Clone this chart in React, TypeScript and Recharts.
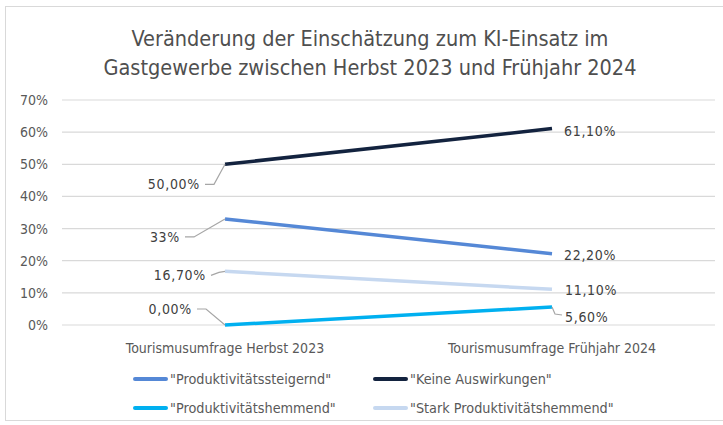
import React from 'react';
import { LineChart, Line, XAxis, YAxis, CartesianGrid, LabelList } from 'recharts';

// Kategorien und Werte (in %)
const categories = ['Tourismusumfrage Herbst 2023', 'Tourismusumfrage Frühjahr 2024'];
const steigernd = [33, 22.2];
const keineAuswirkungen = [50, 61.1];
const hemmend = [0, 5.6];
const starkHemmend = [16.7, 11.1];

const steigerndLabels = ['33%', '22,20%'];
const keineLabels = ['50,00%', '61,10%'];
const hemmendLabels = ['0,00%', '5,60%'];
const starkLabels = ['16,70%', '11,10%'];

const yTicks = [0, 10, 20, 30, 40, 50, 60, 70];

const data = categories.map((name, i) => ({
  name,
  steigernd: steigernd[i],
  keine: keineAuswirkungen[i],
  hemmend: hemmend[i],
  stark: starkHemmend[i],
}));

const FONT = '"DejaVu Sans Condensed", sans-serif';
const TEXT = '#404040';
const MUTED = '#595959';

/**
 * Datenbeschriftung mit Führungslinie
 * dx/dy: Textposition relativ zum Punkt, leader: Knickpunkte der Linie
 */
interface LabelSpec {
  dx: number;
  dy: number;
  anchor: 'start' | 'end';
  leader?: number[][];
}

const labelSpecs: Record<string, LabelSpec[]> = {
  keine: [
    { dx: -25, dy: 20, anchor: 'end', leader: [[-20, 20], [-11, 20], [0, 0]] },
    { dx: 12, dy: 2, anchor: 'start' },
  ],
  steigernd: [
    { dx: -45, dy: 18, anchor: 'end', leader: [[-40, 18], [-31, 18], [0, 0]] },
    { dx: 12, dy: 1, anchor: 'start' },
  ],
  stark: [
    { dx: -19, dy: 4, anchor: 'end', leader: [[-14, 4], [-6, 1], [0, 0]] },
    { dx: 13, dy: 1, anchor: 'start' },
  ],
  hemmend: [
    { dx: -33, dy: -16, anchor: 'end', leader: [[-28, -16], [-19, -16], [0, 0]] },
    { dx: 13, dy: 10, anchor: 'start', leader: [[0, 0], [3, 7], [10, 8]] },
  ],
};

const makeLabel = (key: string, texts: string[]) => (props: any) => {
  const { x, y, index } = props;
  const spec = labelSpecs[key][index];
  return (
    <g>
      {spec.leader && (
        <polyline
          points={spec.leader.map(([a, b]) => `${x + a},${y + b}`).join(' ')}
          fill="none"
          stroke="#a6a6a6"
          strokeWidth={1.2}
        />
      )}
      <text
        x={x + spec.dx}
        y={y + spec.dy}
        textAnchor={spec.anchor}
        dominantBaseline="central"
        fill={TEXT}
        fontSize={14}
        fontFamily={FONT}
        letterSpacing={0.7}
      >
        {texts[index]}
      </text>
    </g>
  );
};

const series = [
  { key: 'steigernd', name: '"Produktivitätssteigernd"', color: '#5588d6', labels: steigerndLabels },
  { key: 'keine', name: '"Keine Auswirkungen"', color: '#13233f', labels: keineLabels },
  { key: 'hemmend', name: '"Produktivitätshemmend"', color: '#00b0f0', labels: hemmendLabels },
  { key: 'stark', name: '"Stark Produktivitätshemmend"', color: '#c6d8f0', labels: starkLabels },
];

const legendPos = [
  { left: 133, top: 379 },
  { left: 373, top: 379 },
  { left: 133, top: 408 },
  { left: 373, top: 408 },
];

export default function App() {
  return (
    <div
      style={{
        position: 'absolute',
        left: 0,
        top: 0,
        width: 723,
        height: 425,
        overflow: 'hidden',
        background: '#fff',
        fontFamily: FONT,
      }}
    >
      <div
        style={{
          position: 'absolute',
          left: 5,
          top: 6,
          width: 730,
          height: 413,
          border: '1px solid #d9d9d9',
        }}
      />
      <div
        style={{
          position: 'absolute',
          left: 0,
          top: 24,
          width: 740,
          textAlign: 'center',
          fontSize: 21.5,
          lineHeight: '29px',
          color: '#4f4f4f',
        }}
      >
        Veränderung der Einschätzung zum KI-Einsatz im
        <br />
        Gastgewerbe zwischen Herbst 2023 und Frühjahr 2024
      </div>
      <div style={{ position: 'absolute', left: 0, top: 0 }}>
        <LineChart
          width={723}
          height={425}
          data={data}
          margin={{ top: 100, right: 8, bottom: 70, left: 12 }}
        >
          <CartesianGrid horizontal vertical={false} stroke="#d9d9d9" strokeWidth={1.2} />
          <XAxis
            dataKey="name"
            axisLine={false}
            tickLine={false}
            padding={{ left: 163, right: 163 }}
            height={30}
            tickMargin={12}
            tick={{ fill: MUTED, fontSize: 14, fontFamily: FONT }}
          />
          <YAxis
            domain={[0, 70]}
            ticks={yTicks}
            axisLine={false}
            tickLine={false}
            width={50}
            tickMargin={8}
            tickFormatter={(v) => `${v}%`}
            tick={{ fill: MUTED, fontSize: 14, fontFamily: FONT }}
          />
          {series.map((s) => (
            <Line
              key={s.key}
              dataKey={s.key}
              name={s.name}
              stroke={s.color}
              strokeWidth={3.5}
              dot={false}
              activeDot={false}
              isAnimationActive={false}
            >
              <LabelList dataKey={s.key} content={makeLabel(s.key, s.labels)} />
            </Line>
          ))}
        </LineChart>
      </div>
      {series.map((s, i) => (
        <div
          key={s.key}
          style={{
            position: 'absolute',
            left: legendPos[i].left,
            top: legendPos[i].top - 10,
            height: 20,
            display: 'flex',
            alignItems: 'center',
            fontSize: 14.3,
            color: MUTED,
            whiteSpace: 'nowrap',
          }}
        >
          <span
            style={{
              display: 'inline-block',
              width: 35,
              height: 4,
              borderRadius: 2,
              background: s.color,
              marginRight: 2,
            }}
          />
          {s.name}
        </div>
      ))}
    </div>
  );
}
